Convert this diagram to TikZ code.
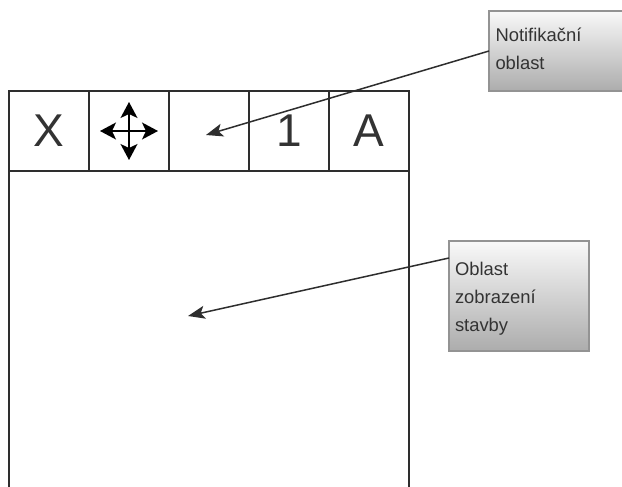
\documentclass[tikz,border=0pt]{standalone}
\usepackage{fontspec}
\setmainfont{Liberation Sans}
\usetikzlibrary{arrows.meta,calc}
\definecolor{linec}{HTML}{2E2E2E}
\definecolor{txt}{HTML}{333333}
\tikzset{
  x=1pt,y=-1pt,
  cell/.style={draw=linec,line width=1.5pt,fill=white,minimum width=80pt,minimum height=80pt,inner sep=0pt,outer sep=0pt,font=\fontsize{46}{46}\selectfont,text=txt},
  area/.style={draw=linec,line width=1.5pt,fill=white,minimum width=400pt,minimum height=360pt,inner sep=0pt,outer sep=0pt},
  note/.style={draw=gray!85,line width=1.5pt,top color=white!95!gray,bottom color=gray!65,inner sep=0pt,outer sep=0pt,text=txt,font=\fontsize{18.4}{28}\selectfont},
  conn/.style={draw=linec,line width=1.5pt,-{Stealth[length=17pt,width=13pt,inset=4pt]}},
  mv/.style={draw=black,line width=1.5pt,{Stealth[length=16pt,width=17pt,inset=4pt]}-{Stealth[length=16pt,width=17pt,inset=4pt]}}
}
\begin{document}
\begin{tikzpicture}
\useasboundingbox (0,0) rectangle (622,487);
\fill[white] (0,0) rectangle (622,487);
\node[area] (view) at (209,351) {};
\node[cell] (cx) at (49,131) {X};
\node[cell] (cm) at (129,131) {};
\node[cell] (cn) at (209,131) {};
\node[cell] (cone) at (289,131) {1};
\node[cell] (ca) at (369,131) {A};
\draw[mv] ($(cm)+(-29,0)$) -- ($(cm)+(29,0)$);
\draw[mv] ($(cm)+(0,-29)$) -- ($(cm)+(0,29)$);
\node[note,minimum width=141pt,minimum height=80pt] (n1) at (559.5,51) {\parbox{128pt}{Notifikační\\oblast\par\vspace{4pt}}};
\node[note,minimum width=140pt,minimum height=110pt] (n2) at (519,296) {\parbox{128pt}{\vspace*{6pt}Oblast\\zobrazení\\stavby}};
\coordinate (t1) at (206,135);
\coordinate (t2) at (188,316);
\draw[conn] (n1.west) -- (t1);
\draw[conn] ($(n2.north west)+(0,17)$) -- (t2);
\end{tikzpicture}
\end{document}
